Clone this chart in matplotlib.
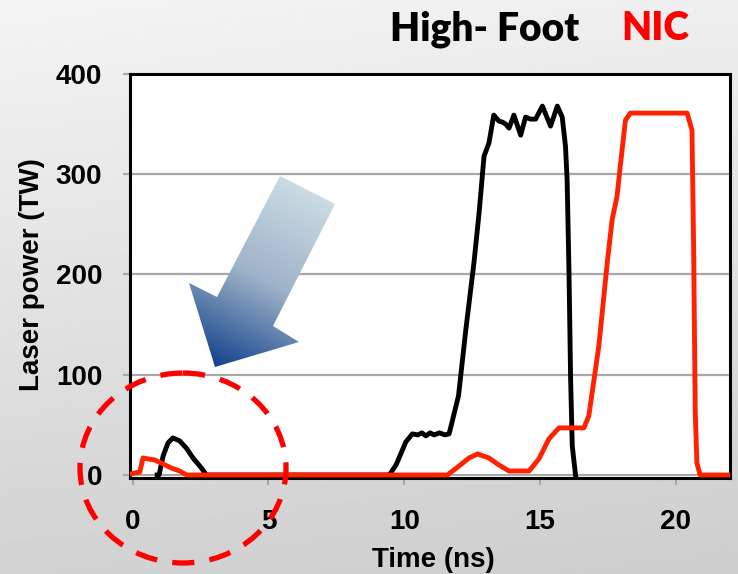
import numpy as np
import matplotlib
matplotlib.use("Agg")
import matplotlib.pyplot as plt
from matplotlib.patches import Polygon, Ellipse
from matplotlib.colors import LinearSegmentedColormap

# High-Foot pulse (black)
t_hf = [0.9, 0.97, 1.12, 1.30, 1.48, 1.73, 1.97, 2.22, 2.53, 2.71, 9.45, 9.7, 10.06, 10.3,
        10.5, 10.65, 10.8, 10.95, 11.1, 11.3, 11.5, 11.65, 11.7, 12.0, 12.27, 12.57, 12.76,
        12.94, 13.12, 13.3, 13.49, 13.62, 13.74, 13.86, 14.04, 14.29, 14.47, 14.65, 14.84,
        15.09, 15.39, 15.64, 15.82, 15.94, 16.0, 16.07, 16.13, 16.19, 16.31]
p_hf = [0, 0, 19, 32, 37, 34, 27, 17, 7, 0, 0, 10, 33, 41,
        40, 42, 39, 42, 40, 42, 40, 41, 46, 79, 145, 212, 262,
        318, 331, 359, 353, 352, 350, 346, 359, 339, 357, 355, 355,
        368, 348, 368, 357, 328, 295, 202, 95, 29, 0]

# NIC pulse (red)
t_nic = [-0.1, 0.26, 0.38, 0.56, 0.81, 1.12, 1.42, 1.73, 1.85, 2.0, 11.59, 12.02, 12.39,
         12.70, 13.12, 13.43, 13.86, 14.6, 14.96, 15.33, 15.7, 16.62, 16.8, 17.17, 17.48,
         17.66, 17.84, 17.97, 18.15, 18.33, 20.42, 20.6, 20.66, 20.72, 20.78, 20.9, 22]
p_nic = [1, 3, 17, 16, 15, 11, 7, 4, 2, 0, 0, 9, 17,
         21, 17, 11, 4, 4, 16, 36, 47, 47, 59, 129, 212,
         255, 278, 311, 354, 361, 361, 344, 228, 63, 12, 0, 0]

x_ticks = [0, 5, 10, 15, 20]
y_ticks = [0, 100, 200, 300, 400]

W, H = 738, 574
fig = plt.figure(figsize=(W / 100, H / 100), dpi=100)

# gray gradient background
bg = fig.add_axes([0, 0, 1, 1], zorder=-10)
yy, xx = np.mgrid[0:1:200j, 0:1:200j]
grad = 0.955 - 0.13 * yy - 0.02 * xx
bg.imshow(grad, cmap="gray", vmin=0, vmax=1, extent=[0, 1, 0, 1], aspect="auto")
bg.axis("off")

ax = fig.add_axes([130 / W, 1 - 478 / H, 600 / W, 404 / H])
ax.set_facecolor("white")
ax.plot(t_hf, p_hf, color="black", lw=3.5, solid_joinstyle="round", zorder=3)
ax.plot(t_nic, p_nic, color="#ff2200", lw=3.5, solid_joinstyle="round", zorder=4)

ax.set_xlim(-0.1, 22)
ax.set_ylim(-3, 400)
ax.set_xticks(x_ticks)
ax.set_yticks(y_ticks)
ax.grid(axis="y", color="#a8a8a8", lw=1.6)
ax.set_axisbelow(True)
for s in ax.spines.values():
    s.set_linewidth(2.2)
    s.set_color("black")
ax.tick_params(direction="out", length=5, width=1.5, color="#a8a8a8")
ax.tick_params(axis="x", pad=17)
ax.tick_params(axis="y", pad=15)
for lab in ax.get_xticklabels() + ax.get_yticklabels():
    lab.set_fontfamily("Liberation Sans")
    lab.set_fontweight("bold")
    lab.set_fontsize(20)

fig.text(433 / W, 1 - 567 / H, "Time (ns)", ha="center", va="baseline",
         fontsize=20, fontweight="bold", family="Liberation Sans")
fig.text(32 / W, 1 - 275 / H, "Laser power (TW)", ha="center", va="center", rotation=90,
         fontsize=20, fontweight="bold", family="Liberation Sans")

fig.text(390 / W, 1 - 41 / H, "High- Foot", ha="left", va="baseline",
         fontsize=28, fontweight="heavy", family="Lato", color="black")
fig.text(621 / W, 1 - 40 / H, "NIC", ha="left", va="baseline",
         fontsize=28, fontweight="heavy", family="Lato", color="#ff0000")

# overlay in pixel coordinates for arrow and dashed circle
ov = fig.add_axes([0, 0, 1, 1], zorder=10)
ov.set_xlim(0, W)
ov.set_ylim(H, 0)
ov.axis("off")

arrow_pts = [(280, 176), (335, 204), (273, 326), (299, 342), (215, 367), (189, 283), (217, 297)]
arrow = Polygon(arrow_pts, closed=True, facecolor="none", edgecolor="none")
ov.add_patch(arrow)
p0 = np.array([307, 190])
p1 = np.array([215, 367])
d = (p1 - p0) / np.sum((p1 - p0) ** 2)
gx, gy = np.meshgrid(np.linspace(180, 340, 200), np.linspace(170, 370, 250))
frac = np.clip((gx - p0[0]) * d[0] + (gy - p0[1]) * d[1], 0, 1)
cmap = LinearSegmentedColormap.from_list("arr", ["#cbdbe3", "#9fb3c9", "#12428c"])
im = ov.imshow(frac, cmap=cmap, extent=[180, 340, 370, 170], origin="upper", aspect="auto")
im.set_clip_path(arrow)

circle = Ellipse((183, 468), 206, 190, fill=False, edgecolor="#ff0000", lw=3.8,
                 linestyle=(0, (4.2, 2.9)))
ov.add_patch(circle)
ov.set_xlim(0, W)
ov.set_ylim(H, 0)

fig.savefig("out.png", dpi=100)
